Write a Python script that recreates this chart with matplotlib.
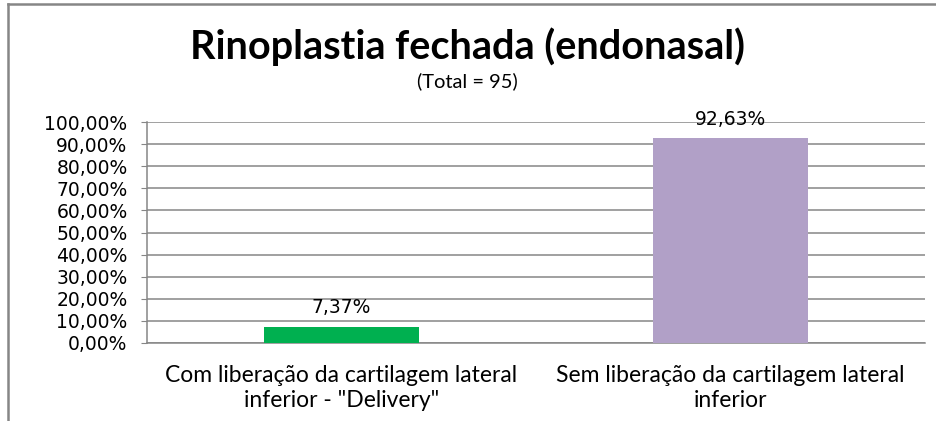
import matplotlib.pyplot as plt
from matplotlib.lines import Line2D
from matplotlib.ticker import FuncFormatter

# data
categories = ['Com liberação da cartilagem lateral\ninferior - "Delivery"',
              'Sem liberação da cartilagem lateral\ninferior']
values = [0.0737, 0.9263]
bar_colors = ['#00b050', '#b1a0c7']
title = 'Rinoplastia fechada (endonasal)'
subtitle = '(Total = 95)'

W, H = 936, 421
fig = plt.figure(figsize=(W / 100, H / 100), dpi=100)
ax = fig.add_axes([147 / W, 1 - 343 / H, (925 - 147) / W, (343 - 122) / H])

x = list(range(len(categories)))
ax.bar(x, values, width=0.40, color=bar_colors, zorder=3)
ax.set_xlim(-0.5, len(categories) - 0.5)
ax.set_ylim(0, 1)

ax.set_yticks([i / 10 for i in range(11)])
ax.yaxis.set_major_formatter(FuncFormatter(lambda v, _: f'{v * 100:.2f}%'.replace('.', ',')))
ax.grid(axis='y', color='#868686', linewidth=1.1, zorder=0)
ax.tick_params(axis='y', length=4, color='#868686', labelsize=13.5, pad=10,
               labelcolor='black')
ax.set_xticks(x)
ax.set_xticklabels(categories, family='Lato', fontsize=16.5, linespacing=1.2)
ax.tick_params(axis='x', length=0, pad=16)
for s in ['top', 'right']:
    ax.spines[s].set_visible(False)
for s in ['left', 'bottom']:
    ax.spines[s].set_color('#868686')
    ax.spines[s].set_linewidth(1.1)

for xi, v in zip(x, values):
    ax.annotate(f'{v * 100:.2f}%'.replace('.', ','), (xi, v), xytext=(0, 7),
                textcoords='offset points', ha='center', va='bottom', fontsize=13.5)

fig.text(467 / W, 1 - 47 / H, title, ha='center', va='center',
         family='Lato', fontweight='bold', fontsize=28.5)
fig.text(467 / W, 1 - 81 / H, subtitle, ha='center', va='center',
         family='Lato', fontsize=14.5)

# chart area border (only left and top visible)
fig.add_artist(Line2D([8 / W, 8 / W], [0, 1 - 3.5 / H], transform=fig.transFigure,
                      color='#868686', linewidth=1.8))
fig.add_artist(Line2D([8 / W, 1], [1 - 3.5 / H, 1 - 3.5 / H], transform=fig.transFigure,
                      color='#868686', linewidth=1.8))

fig.savefig('out.png', dpi=100)
